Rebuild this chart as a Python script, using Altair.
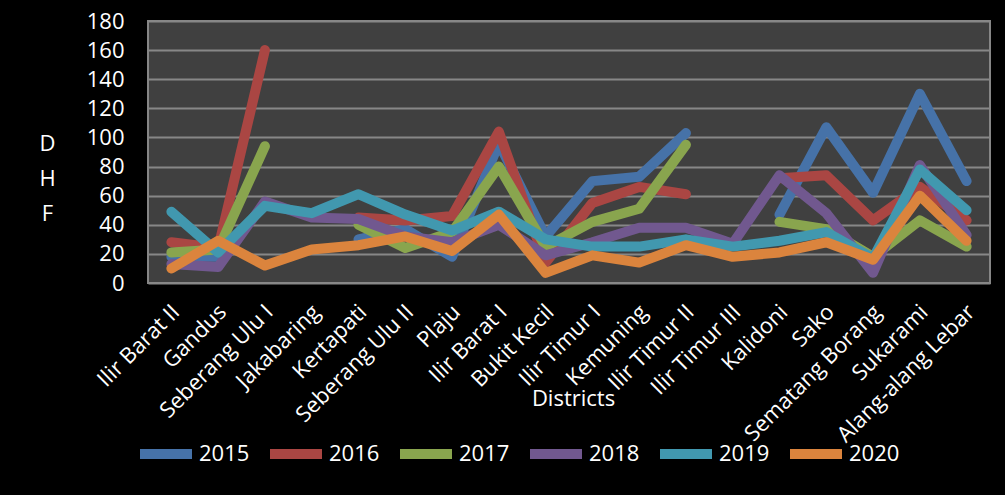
import altair as alt
import pandas as pd

districts = ["Ilir Barat II", "Gandus", "Seberang Ulu I", "Jakabaring", "Kertapati",
             "Seberang Ulu II", "Plaju", "Ilir Barat I", "Bukit Kecil", "Ilir Timur I",
             "Kemuning", "Ilir Timur II", "Ilir Timur III", "Kalidoni", "Sako",
             "Sematang Borang", "Sukarami", "Alang-alang Lebar"]
years = ["2015", "2016", "2017", "2018", "2019", "2020"]

v2015 = [18, 18, None, None, 30, 37, 18, 96, 32, 70, 73, 103, None, 47, 107, 62, 130, 70]
v2016 = [28, 24, 160, None, 45, 43, 46, 104, 14, 55, 66, 61, None, 72, 74, 43, 66, 43]
v2017 = [21, 23, 94, None, 40, 24, 35, 80, 25, 42, 51, 95, None, 42, 37, 18, 43, 25]
v2018 = [13, 11, 56, 45, 44, 32, 28, 40, 19, 28, 38, 38, 27, 74, 48, 7, 81, 33]
v2019 = [49, 21, 53, 48, 61, 47, 36, 49, 30, 25, 25, 30, 25, 29, 35, 17, 78, 50]
v2020 = [10, 29, 12, 23, 26, 32, 22, 47, 7, 19, 14, 26, 18, 21, 28, 16, 60, 29]

colors = ["#4672A8", "#AA4643", "#89A54E", "#71588F", "#4198AF", "#DB843D"]

series = [v2015, v2016, v2017, v2018, v2019, v2020]
rows = []
for yr, vals in zip(years, series):
    for d, v in zip(districts, vals):
        rows.append({"district": d, "year": yr, "value": v})
df = pd.DataFrame(rows)

FONT = "Open Sans"

chart = alt.Chart(df).mark_line(
    strokeWidth=10, strokeCap="round", strokeJoin="round",
    invalid="break-paths-show-domains"
).encode(
    x=alt.X("district:N", sort=districts,
            scale=alt.Scale(type="point", padding=0.5),
            axis=alt.Axis(title="Districts", labelAngle=-45, labelAlign="right",
                          labelBaseline="middle", labelPadding=25, labelOffset=4,
                          labelFontSize=22, labelColor="white", labelFont=FONT,
                          labelLimit=400,
                          ticks=False, domain=False, grid=False, labelOverlap=False,
                          titleFontSize=22, titleFont=FONT, titleFontWeight="normal",
                          titleColor="white", titleX=425, titleY=122,
                          titleAlign="center", titleBaseline="alphabetic")),
    y=alt.Y("value:Q", scale=alt.Scale(domain=[0, 180], nice=False),
            axis=alt.Axis(values=list(range(0, 181, 20)), title=["D", "H", "F"],
                          titleAngle=0, titleX=-101, titleY=112, titleAlign="center",
                          titleBaseline="top", titleLineHeight=35, titleFontSize=22,
                          titleFont=FONT, titleFontWeight="normal", titleColor="white",
                          labelFontSize=22, labelFont=FONT, labelColor="white",
                          labelPadding=24, ticks=False, domain=False,
                          gridColor="#878787", gridWidth=2)),
    color=alt.Color("year:N", scale=alt.Scale(domain=years, range=colors),
                    legend=alt.Legend(title=None, orient="none", legendX=-13, legendY=402,
                                      direction="horizontal", symbolType="stroke",
                                      symbolSize=2704, symbolStrokeWidth=10,
                                      labelFontSize=22, labelColor="white",
                                      labelFont=FONT,
                                      labelOffset=2, columnPadding=0)),
).properties(
    width=842, height=262,
    autosize=alt.AutoSizeParams(type="none"),
    padding={"left": 148, "top": 21, "right": 15, "bottom": 212},
    background="black",
).configure_view(
    fill="#404040", stroke="#868686", strokeWidth=2
)

chart.save("out.html", embed_options={"renderer": "svg", "actions": False})
